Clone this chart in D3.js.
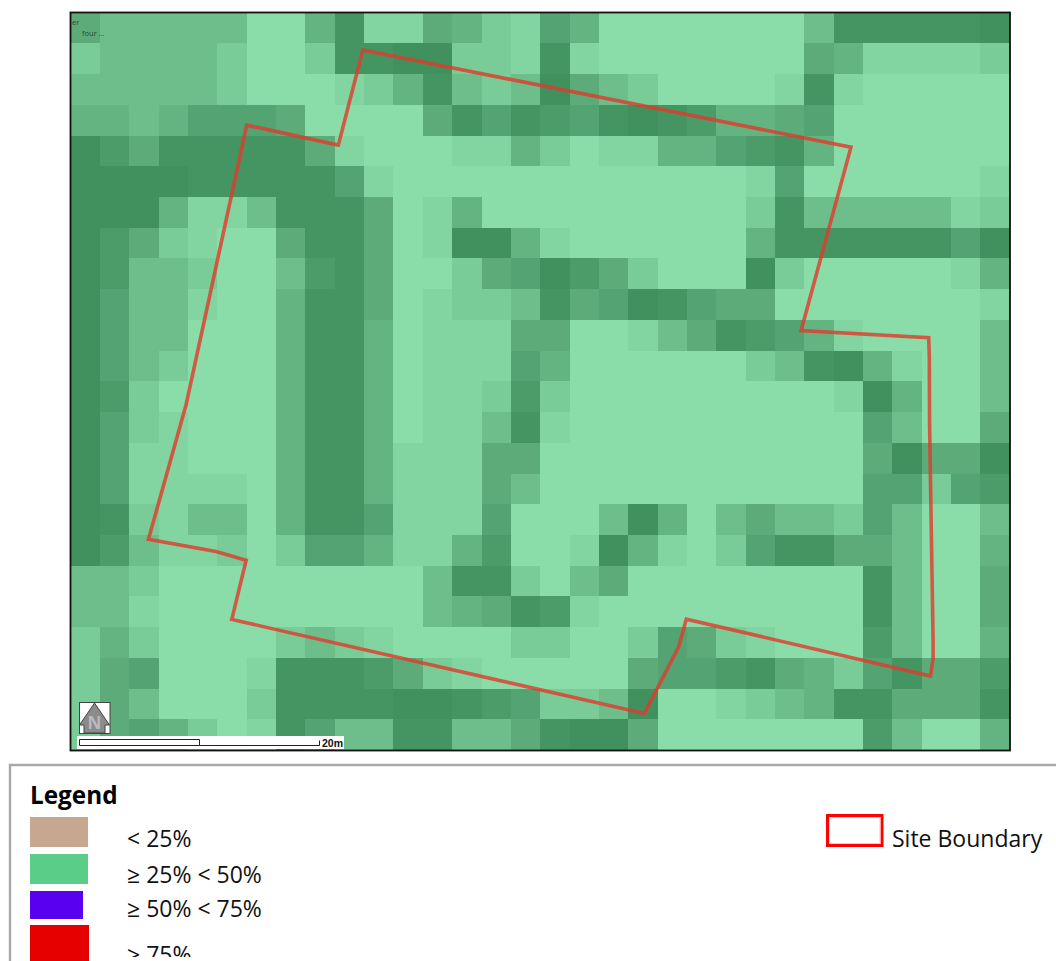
<!DOCTYPE html>
<html>
<head>
<meta charset="utf-8">
<script src="https://cdn.jsdelivr.net/npm/d3@7"></script>
<style>
  html, body { margin: 0; padding: 0; background: #fff; overflow: hidden; }
  text { font-family: "Open Sans", Lato, sans-serif; }
</style>
</head>
<body>
<svg id="map" width="1056" height="961"></svg>
<script>
// shade class of every raster cell (0 lightest, 9 darkest)
var cellShades = [
  [5,3,3,3,3,3,0,0,4,8,1,1,5,4,2,1, 6,4,0,0,0,0,0,0,0,3,8,8,8,8,8,9],
  [2,3,3,3,3,2,0,0,2,8,8,9,9,2,2,1, 8,1,0,0,0,0,0,0,0,5,4,1,1,1,1,2],
  [3,3,3,3,3,2,0,0,0,1,2,4,8,3,2,3, 9,5,3,2,0,0,0,0,1,8,1,0,0,0,0,0],
  [4,4,3,4,6,6,6,5,0,0,0,0,5,8,6,8, 7,6,8,9,8,7,4,4,5,6,0,0,0,0,0,0],
  [9,7,5,8,8,8,8,8,5,1,0,0,0,1,1,4, 2,0,1,1,4,4,6,7,8,4,0,0,0,0,0,0],
  [9,9,9,9,8,8,8,8,8,6,1,0,0,0,0,0, 0,0,0,0,0,0,0,1,6,0,0,0,0,0,0,1],
  [9,9,9,4,1,1,3,8,8,8,5,0,1,4,0,0, 0,0,0,0,0,0,0,2,8,3,3,3,3,3,1,2],
  [9,7,5,2,1,0,0,5,8,8,5,0,1,9,9,4, 1,0,0,0,0,0,0,4,8,8,8,8,8,8,6,9],
  [9,7,3,3,2,0,0,3,7,8,5,0,0,2,5,6, 9,7,5,2,0,0,0,9,2,0,0,0,0,0,1,4],
  [9,6,3,3,1,0,0,4,8,8,5,0,1,2,2,3, 8,5,6,9,8,6,5,5,0,0,0,0,0,0,0,1],
  [9,6,3,3,0,0,0,4,8,8,4,0,1,1,1,5, 5,0,0,1,3,5,8,7,6,4,1,0,0,0,0,3],
  [9,6,3,2,0,0,0,4,8,8,4,0,1,1,1,6, 4,0,0,0,0,0,0,2,3,8,9,4,1,0,0,3],
  [9,7,2,0,0,0,0,4,8,8,4,0,1,1,2,7, 2,0,0,0,0,0,0,0,0,0,1,9,4,0,0,3],
  [9,6,2,1,0,0,0,4,8,8,4,0,1,1,3,8, 1,0,0,0,0,0,0,0,0,0,0,6,3,0,0,5],
  [9,6,1,1,0,0,0,4,8,8,4,1,1,1,5,5, 0,0,0,0,0,0,0,0,0,0,0,5,9,5,5,9],
  [9,6,1,1,1,1,0,4,8,8,4,1,1,1,5,3, 0,0,0,0,0,0,0,0,0,0,0,6,6,2,6,7],
  [9,8,2,1,3,3,0,4,8,8,6,1,1,1,6,0, 0,0,3,9,4,0,3,5,3,3,2,6,3,0,0,3],
  [9,7,3,1,1,2,0,2,6,6,4,1,1,4,7,0, 0,1,9,4,1,0,2,6,8,8,5,5,3,0,0,4],
  [3,3,2,0,0,0,0,0,0,0,0,0,3,8,8,2, 0,3,5,0,0,0,0,0,0,0,0,8,3,0,0,5],
  [3,3,1,0,0,0,0,0,0,0,0,0,3,4,5,8, 7,1,0,0,0,0,0,0,0,0,0,8,3,0,0,5],
  [2,4,2,0,0,0,0,2,3,2,1,0,0,0,0,2, 2,0,0,2,6,5,2,1,0,0,0,7,3,0,0,4],
  [2,5,6,0,0,0,1,8,8,8,7,5,2,1,0,0, 0,0,0,5,6,6,7,8,5,4,2,6,8,5,5,7],
  [2,5,3,0,0,0,2,8,8,8,8,9,9,8,7,6, 2,2,3,9,0,0,1,2,3,4,8,8,5,5,5,8],
  [2,5,6,4,2,0,1,8,6,3,3,8,8,3,3,5, 8,9,9,5,0,0,0,0,0,0,0,7,3,0,0,4]
];

var shadeClasses = [0,1,2,3,4,5,6,7,8,9];
var shadeColors = ["#8adca8","#82d4a0","#79cb97","#6dbe8b","#64b482","#5cab79","#54a372","#4c9c69","#459563","#41915e"];

// site boundary in raster cell units [column, row]
var boundaryCol = [9.955,26.59,24.89,29.24,29.26,29.27,29.39,29.39,29.30,20.98,20.72,19.55,5.49,5.98,4.95,2.65,3.93,6.00,9.12];
var boundaryRow = [1.214,4.38,10.35,10.58,11.20,13.42,20.48,21.01,21.59,19.74,20.64,22.81,19.75,17.82,17.54,17.14,12.77,3.66,4.31];

var legendLabels = ["< 25%", "\u2265 25% < 50%", "\u2265 50% < 75%", "\u2265 75%"];
var legendColors = ["#c7a78f", "#5ace88", "#5a00f0", "#e60000"];
var boundaryLabel = "Site Boundary";
var scaleLabel = "20m";
var cornerLabels = ["er", "four ..."];

var svg = d3.select("#map");

var left = 70.7, right = 1009.7, top_ = 12.7, bottom = 750;
var nCols = cellShades[0].length, nRows = cellShades.length;

var x = d3.scaleBand().domain(d3.range(nCols)).range([left, right]);
var y = d3.scaleBand().domain(d3.range(nRows)).range([top_, bottom]);
var xUnit = d3.scaleLinear().domain([0, nCols]).range([left, right]);
var yUnit = d3.scaleLinear().domain([0, nRows]).range([top_, bottom]);
var color = d3.scaleOrdinal().domain(shadeClasses).range(shadeColors);

var cells = [];
cellShades.forEach(function(row, r){
  row.forEach(function(v, c){ cells.push({r: r, c: c, v: v}); });
});

svg.append("g").selectAll("rect")
  .data(cells)
  .enter().append("rect")
  .attr("x", d => x(d.c))
  .attr("y", d => y(d.r))
  .attr("width", x.bandwidth() + 0.5)
  .attr("height", y.bandwidth() + 0.5)
  .attr("fill", d => color(d.v))
  .attr("shape-rendering", "crispEdges");

// small leftover labels in the map corner
var corner = svg.append("g").attr("font-size", 7.5).attr("fill", "#1d3a28").attr("opacity", 0.85);
corner.append("text").attr("x", 72).attr("y", 25).text(cornerLabels[0]);
corner.append("text").attr("x", 82).attr("y", 36).text(cornerLabels[1]);

// site boundary
var boundaryLine = d3.line().x(d => xUnit(d[0])).y(d => yUnit(d[1])).curve(d3.curveLinearClosed);
svg.append("path")
  .attr("d", boundaryLine(d3.zip(boundaryCol, boundaryRow)))
  .attr("fill", "none")
  .attr("stroke", "#e03a2c")
  .attr("stroke-opacity", 0.8)
  .attr("stroke-width", 3.6)
  .attr("stroke-linejoin", "miter");

// north arrow
var north = svg.append("g").attr("transform", "translate(79,702)");
north.append("rect").attr("x", 0.5).attr("y", 0.5).attr("width", 30.5).attr("height", 31)
  .attr("fill", "#fff").attr("stroke", "#444").attr("stroke-width", 1);
north.append("path")
  .attr("d", "M15.5,1 L30.5,23 L26,23 L26,31 L5,31 L5,23 L0.5,23 Z")
  .attr("fill", "#8b8b8b").attr("stroke", "#444").attr("stroke-width", 1);
north.append("text").attr("x", 15.5).attr("y", 27).attr("text-anchor", "middle")
  .attr("font-size", 17).attr("font-weight", "bold").attr("fill", "#b9b9c2").text("N");

// scale bar
var bar = svg.append("g");
bar.append("rect").attr("x", 77).attr("y", 736).attr("width", 267).attr("height", 13).attr("fill", "#fff");
bar.append("path")
  .attr("d", "M79.5,745.5 V739.5 H199.5 V745.5 H319.5 V740.5")
  .attr("fill", "none").attr("stroke", "#222").attr("stroke-width", 1);
bar.append("path").attr("d", "M79.5,745.5 H199.5").attr("fill", "none").attr("stroke", "#222").attr("stroke-width", 1);
bar.append("text").attr("x", 322).attr("y", 746.5).attr("font-size", 10.5).attr("font-weight", "bold")
  .style("font-family", "'Liberation Sans', sans-serif")
  .attr("fill", "#111").text(scaleLabel);

// map frame
svg.append("rect").attr("x", 70.5).attr("y", 12.5).attr("width", 939.5).attr("height", 738)
  .attr("fill", "none").attr("stroke", "#111").attr("stroke-width", 1.8);

// legend panel
svg.append("path").attr("d", "M1056,765 H10 V961").attr("fill", "none").attr("stroke", "#a9a9a9").attr("stroke-width", 2.4);
svg.append("text").attr("x", 30).attr("y", 804).attr("font-size", 24.3).attr("font-weight", "bold").attr("fill", "#000").text("Legend");

var swatchBox = [
  {x: 30, y: 817, w: 58, h: 30},
  {x: 30, y: 854, w: 58, h: 30},
  {x: 30, y: 891, w: 53, h: 28},
  {x: 30, y: 925, w: 59, h: 36}
];
var labelY = [846.5, 883, 917, 963];

svg.append("g").selectAll("rect")
  .data(legendColors)
  .enter().append("rect")
  .attr("x", (d, i) => swatchBox[i].x)
  .attr("y", (d, i) => swatchBox[i].y)
  .attr("width", (d, i) => swatchBox[i].w)
  .attr("height", (d, i) => swatchBox[i].h)
  .attr("fill", d => d);

svg.append("clipPath").attr("id", "legendClip")
  .append("rect").attr("x", 0).attr("y", 760).attr("width", 1056).attr("height", 197);

svg.append("g").attr("clip-path", "url(#legendClip)").selectAll("text")
  .data(legendLabels)
  .enter().append("text")
  .attr("x", 127)
  .attr("y", (d, i) => labelY[i])
  .attr("font-size", 23)
  .attr("fill", "#111")
  .text(d => d);

svg.append("rect").attr("x", 827.5).attr("y", 815.5).attr("width", 54.5).attr("height", 30)
  .attr("fill", "#fff").attr("stroke", "#f00").attr("stroke-width", 3);
svg.append("rect").attr("x", 829.5).attr("y", 817.5).attr("width", 50.5).attr("height", 26)
  .attr("fill", "none").attr("stroke", "#ffc4c4").attr("stroke-width", 1);
svg.append("text").attr("x", 892).attr("y", 846.5).attr("font-size", 23).attr("fill", "#111").text(boundaryLabel);
</script>
</body>
</html>
